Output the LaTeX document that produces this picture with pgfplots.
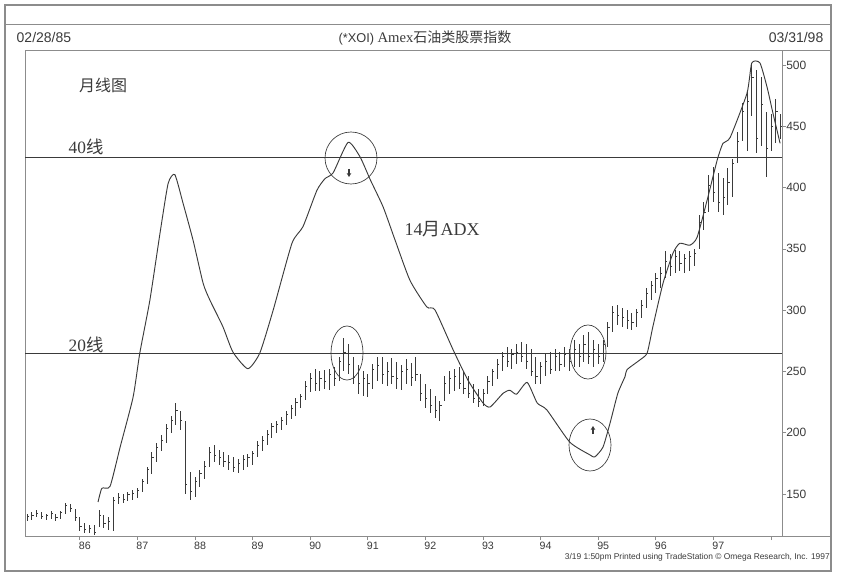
\documentclass[border=0pt]{standalone}
\usepackage{pgfplots}
\pgfplotsset{compat=1.18}
\usepackage{pgfplotstable}
\usepackage{fontspec}
\setmainfont{Liberation Serif}
\setsansfont{Liberation Sans}
\newfontfamily\cjk{Noto Sans CJK SC}
\usetikzlibrary{arrows.meta}
\definecolor{ink}{HTML}{3A3A3A}
\definecolor{rule}{HTML}{8C8C8C}

% monthly bars, k = 0 is Feb 1985
\pgfplotstableread{
k hi lo c
0 134 128 132
1 135 129 133
2 137 131 134
3 135 130 132
4 134 129 133
5 136 130 134
6 134 128 131
7 136 130 135
8 143 134 141
9 142 135 138
10 138 128 131
11 131 120 124
12 126 118 121
13 125 118 122
14 125 117 119
15 137 123 133
16 133 122 126
17 131 121 128
18 148 120 145
19 151 142 147
20 150 143 146
21 152 144 150
22 153 145 151
23 155 147 153
24 162 152 160
25 172 158 170
26 184 166 180
27 192 176 188
28 198 185 194
29 207 192 204
30 214 200 210
31 224 206 218
32 218 202 210
33 210 150 158
34 168 145 152
35 164 148 160
36 170 156 167
37 177 162 173
38 188 172 184
39 190 176 182
40 186 174 180
41 184 172 177
42 182 170 176
43 180 168 172
44 179 167 175
45 182 170 178
46 183 172 180
47 185 174 183
48 193 180 190
49 197 185 194
50 202 190 199
51 208 196 205
52 210 200 207
53 213 202 210
54 218 206 215
55 223 211 220
56 228 214 225
57 232 220 230
58 242 227 238
59 249 233 244
60 252 234 240
61 250 234 244
62 251 236 242
63 252 235 248
64 254 238 244
65 262 242 258
66 277 250 266
67 272 248 256
68 262 240 245
69 255 232 240
70 250 230 244
71 248 229 240
72 256 236 252
73 262 242 255
74 262 240 248
75 258 238 250
76 261 240 246
77 258 236 244
78 255 235 250
79 260 240 252
80 257 238 245
81 262 242 248
82 248 226 232
83 240 220 228
84 236 216 222
85 230 212 218
86 226 210 222
87 246 226 240
88 250 232 244
89 252 234 246
90 254 236 240
91 250 232 236
92 246 228 232
93 240 224 228
94 236 221 226
95 236 222 232
96 246 232 242
97 252 238 250
98 260 244 256
99 266 250 262
100 270 254 258
101 268 252 264
102 272 256 266
103 274 258 262
104 272 252 258
105 268 246 250
106 262 240 246
107 258 240 254
108 264 246 258
109 266 248 252
110 268 250 262
111 266 250 256
112 270 254 264
113 268 250 258
114 276 254 268
115 272 254 262
116 280 258 272
117 282 256 262
118 276 254 268
119 272 256 262
120 276 258 272
121 290 270 286
122 303 282 298
123 304 288 296
124 302 286 294
125 300 285 292
126 298 284 290
127 301 286 298
128 308 294 304
129 318 302 314
130 324 308 320
131 330 314 326
132 335 318 330
133 348 326 340
134 346 328 336
135 349 330 344
136 348 332 338
137 346 330 342
138 348 332 344
139 350 336 346
140 378 350 372
141 388 365 380
142 410 380 402
143 417 388 396
144 412 380 388
145 408 378 392
146 416 386 404
147 423 392 420
148 445 420 438
149 469 438 462
150 478 430 470
151 501 458 490
152 496 428 440
153 490 434 468
154 462 409 432
155 460 430 450
156 472 436 462
157 460 440 450
}\bars

% 14-month ADX
\pgfplotstableread{
k adx
14.8 4.8
15.6 6.2
17.3 6.4
19.4 10.4
22.1 15.5
23.5 20
25.6 25.4
27.7 32.2
29.4 37.3
30.8 38.2
32.5 35.3
34.6 31.5
36.7 27.1
38.1 25.4
40.8 22.7
42.9 20.1
46 18.4
48.5 20
51.3 24.4
55.2 31.2
57.5 32.9
60.4 36.6
62.1 37.8
63.8 38.4
66.9 41.5
69.4 40
71.5 37.7
74.2 34.9
76.7 31.5
79.8 27.4
83.3 24.7
85 24.4
88.8 20.3
91.9 17.2
95 14.9
96.5 14.5
99.2 15.9
100.6 16.2
102 15.8
104.2 17
106.3 14.9
108.3 14.2
113.1 10.9
117.3 9.6
118.3 9.4
120 10.4
121.5 12.9
123.1 15.9
124.6 17.6
125 18.3
127.7 19.3
129.2 20
130.4 22.7
132.5 27.1
134.6 30.2
136 31.2
138.1 31
139.6 31.8
141.7 35.6
143.8 39.7
145 41.4
146.5 42
150 46.5
151 49.6
152.7 49.6
154.2 47.1
155.4 44.5
156.9 41.4
}\adx

\pgfdeclareplotmark{ctick}{\pgfpathmoveto{\pgfpointorigin}\pgfpathlineto{\pgfpoint{1.4pt}{0pt}}\pgfusepathqstroke}

\pgfplotsset{
  panel/.style={at={(18.75pt,29.25pt)}, anchor=south west, scale only axis,
    width=567.75pt, height=364.5pt, xmin=-0.42, xmax=157.3, clip=false},
}

\begin{document}
\begin{tikzpicture}[x=0.75pt,y=0.75pt]
\path[use as bounding box] (0,0) rectangle (848,575);
\draw[rule, line width=1.1pt] (5,4) rectangle (831,570);
\draw[rule, line width=0.5pt] (5,551) -- (831,551);
\draw[rule, line width=0.5pt] (782,525) -- (831,525);
\draw[rule, line width=0.5pt] (782,39) -- (831,39);

\begin{axis}[panel,
  ymin=115.8, ymax=512.2,
  axis line style={rule, line width=0.5pt},
  xtick={11,23,35,47,59,71,83,95,107,119,131,143,155},
  xticklabels={86,87,88,89,90,91,92,93,94,95,96,97,{}},
  xtick pos=bottom, ytick pos=right, yticklabel pos=right,
  ytick={150,200,250,300,350,400,450,500},
  x tick style={rule, line width=0.5pt}, y tick style={rule, line width=0.5pt},
  tick align=outside, major tick length=3pt,
  /pgf/number format/assume math mode=true,
  xticklabel style={font=\sffamily\fontsize{8}{8}\selectfont, text=ink, anchor=north, inner sep=0pt, xshift=3.75pt, yshift=-1pt},
  yticklabel style={font=\sffamily\fontsize{9}{9}\selectfont, text=ink, anchor=west, inner sep=0pt, xshift=0pt},
]
\addplot[ink, only marks, mark=ctick, mark options={line width=0.5pt},
  error bars/.cd, y dir=both, y explicit, error mark=none,
  error bar style={ink, line width=0.5pt}]
  table[x=k, y=c, y error plus expr=\thisrow{hi}-\thisrow{c}, y error minus expr=\thisrow{c}-\thisrow{lo}] {\bars};
\end{axis}

\begin{axis}[panel, ymin=1.33, ymax=50.92, hide axis]
\addplot[ink, line width=0.5pt] coordinates {(-0.42,40) (157.3,40)};
\addplot[ink, line width=0.5pt] coordinates {(-0.42,20) (157.3,20)};
\addplot[ink, line width=0.7pt, smooth, tension=0.35] table[x=k, y=adx] {\adx};
\end{axis}

% title band
\node[anchor=west, text=ink, font=\sffamily\fontsize{10.5}{10.5}\selectfont] at (12,537) {02/28/85};
\node[anchor=east, text=ink, font=\sffamily\fontsize{10.5}{10.5}\selectfont] at (828,537) {03/31/98};
\node[text=ink] at (425,537) {{\sffamily\fontsize{9.6}{9.6}\selectfont(*XOI)} {\fontsize{11}{11}\selectfont Amex}{\cjk\fontsize{10.5}{10.5}\selectfont 石油类股票指数}};

% annotations
\node[text=ink, font=\cjk\fontsize{12}{12}\selectfont] at (103,490) {月线图};
\node[text=ink, font=\fontsize{13}{13}\selectfont] at (86,428) {40{\cjk 线}};
\node[text=ink, font=\fontsize{13}{13}\selectfont] at (86,230) {20{\cjk 线}};
\node[text=ink, font=\fontsize{13.5}{13.5}\selectfont] at (442,346) {14{\cjk 月}ADX};

\draw[ink, line width=0.5pt] (351,417) circle (26);
\draw[ink, line width=0.5pt] (347,222) ellipse (16 and 27);
\draw[ink, line width=0.5pt] (588,223) ellipse (18 and 27);
\draw[ink, line width=0.5pt] (590,130) ellipse (21 and 26);
\draw[ink, line width=1.2pt, -{Stealth[length=3pt,width=3.5pt]}] (349,406) -- (349,398);
\draw[ink, line width=1.2pt, -{Stealth[length=3pt,width=3.5pt]}] (593,141) -- (593,149);

\node[anchor=east, text=ink, font=\sffamily\fontsize{6.3}{6.3}\selectfont, inner sep=0pt] at (830,18)
  {3/19 1:50pm Printed using TradeStation \textcopyright\ Omega Research, Inc. 1997};
\end{tikzpicture}
\end{document}
